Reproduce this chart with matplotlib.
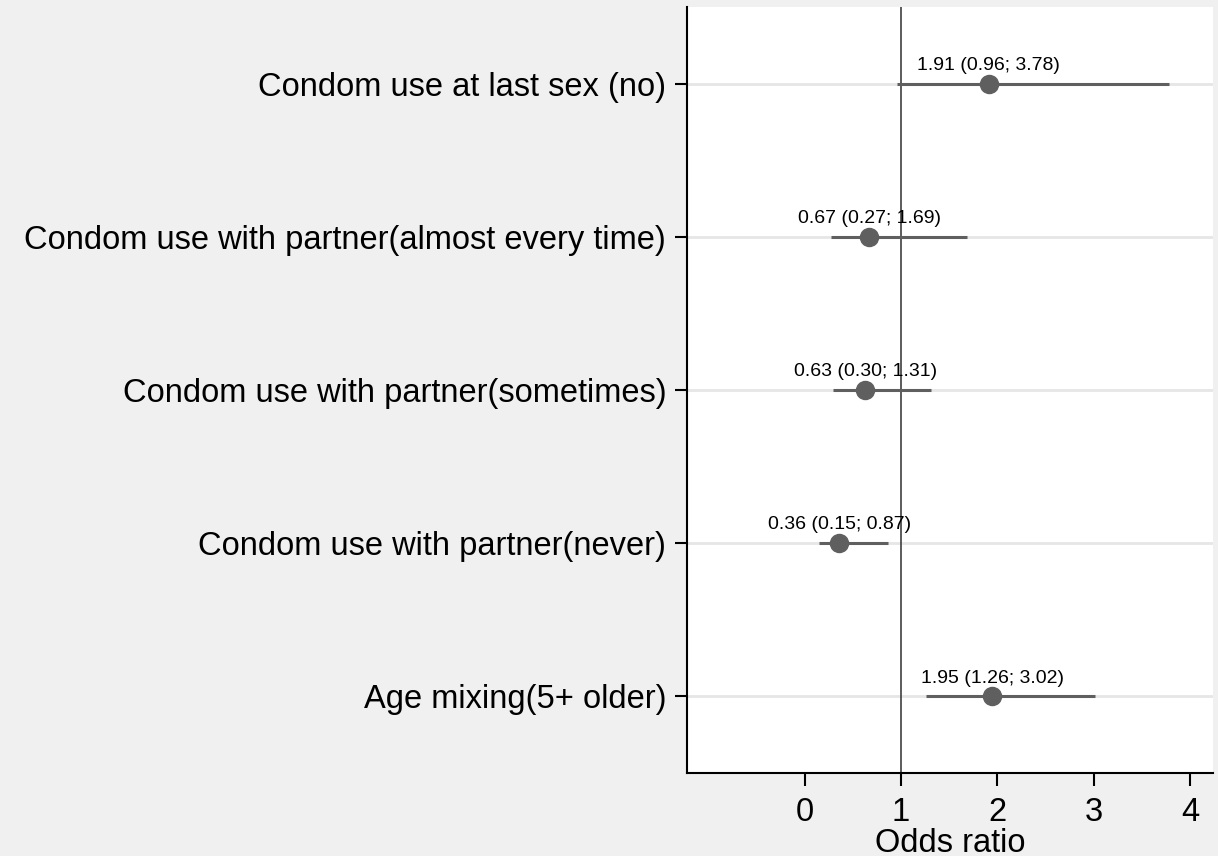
import numpy as np
import matplotlib.pyplot as plt

plt.rcParams['font.family'] = ['Liberation Sans', 'DejaVu Sans']

labels = ["Condom use at last sex (no)",
          "Condom use with partner(almost every time)",
          "Condom use with partner(sometimes)",
          "Condom use with partner(never)",
          "Age mixing(5+ older)"]
odds = [1.91, 0.67, 0.63, 0.36, 1.95]
lower = [0.96, 0.27, 0.30, 0.15, 1.26]
upper = [3.78, 1.69, 1.31, 0.87, 3.02]

fig = plt.figure(figsize=(12.18, 8.56), dpi=100, facecolor='#f0f0f0')
ax = fig.add_axes([687/1218, 1 - 773/856, (1213-687)/1218, (773-7)/856])
ax.set_facecolor('white')

ypos = np.arange(1, len(labels) + 1)
grey = '#5f5f5f'

for y in ypos:
    ax.axhline(y, color='#e6e6e6', lw=2, zorder=0)
ax.axvline(1, color='#404040', lw=1.2, zorder=1)

ax.hlines(ypos, lower, upper, color=grey, lw=2.2, zorder=2)
ax.plot(odds, ypos, 'o', color=grey, ms=13, zorder=3)

for y, o, lo, hi in zip(ypos, odds, lower, upper):
    ax.annotate(f"{o:.2f} ({lo:.2f}; {hi:.2f})", (o, y), xytext=(0, 7),
                textcoords='offset points', ha='center', va='bottom',
                fontsize=14)

ax.set_ylim(len(labels) + 0.5, 0.5)
ax.set_xlim(-1.22, 4.24)
ax.set_yticks(ypos)
ax.set_yticklabels(labels, fontsize=23.5)
ax.set_xticks([0, 1, 2, 3, 4])
ax.tick_params(axis='x', labelsize=23.5, length=9, width=1.5, pad=8)
ax.tick_params(axis='y', length=9, width=1.5, pad=6)
ax.set_xlabel("Odds ratio", fontsize=23.5, labelpad=0)

for side in ['top', 'right']:
    ax.spines[side].set_visible(False)
for side in ['left', 'bottom']:
    ax.spines[side].set_linewidth(1.5)

fig.savefig('out.png', dpi=100, facecolor=fig.get_facecolor())
